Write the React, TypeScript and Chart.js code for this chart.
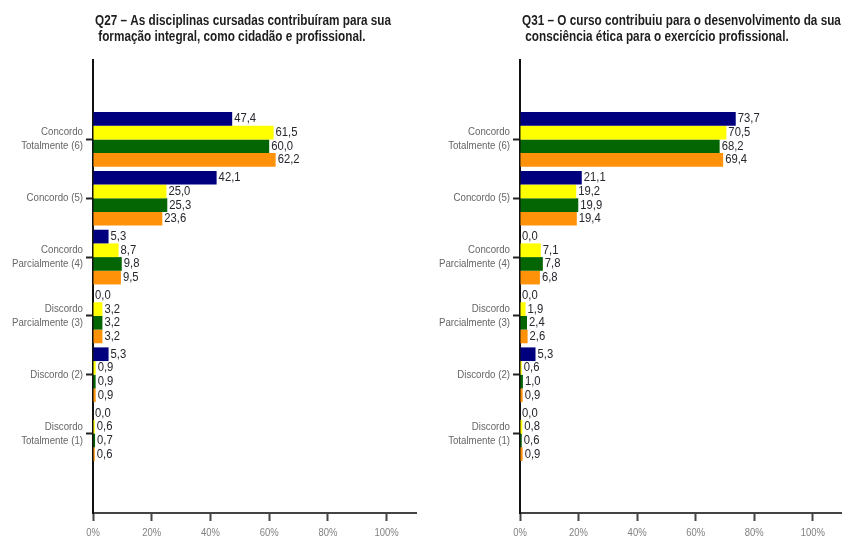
import React, { useEffect, useRef } from 'react';
import { Chart, registerables } from 'chart.js';

Chart.register(...registerables);

// ---------- data ----------
const categories: string[][] = [
  ['Concordo', 'Totalmente (6)'],
  ['Concordo (5)'],
  ['Concordo', 'Parcialmente (4)'],
  ['Discordo', 'Parcialmente (3)'],
  ['Discordo (2)'],
  ['Discordo', 'Totalmente (1)'],
];
const xTickValues = [0, 20, 40, 60, 80, 100];
const seriesNames = ['Série 1', 'Série 2', 'Série 3', 'Série 4'];
const seriesColors = ['#00007e', '#ffff00', '#036603', '#ff9208'];

const q27Title = [
  'Q27 – As disciplinas cursadas contribuíram para sua',
  ' formação integral, como cidadão e profissional.',
];
const q27Series1 = [47.4, 42.1, 5.3, 0.0, 5.3, 0.0];
const q27Series2 = [61.5, 25.0, 8.7, 3.2, 0.9, 0.6];
const q27Series3 = [60.0, 25.3, 9.8, 3.2, 0.9, 0.7];
const q27Series4 = [62.2, 23.6, 9.5, 3.2, 0.9, 0.6];

const q31Title = [
  'Q31 – O curso contribuiu para o desenvolvimento da sua',
  ' consciência ética para o exercício profissional.',
];
const q31Series1 = [73.7, 21.1, 0.0, 0.0, 5.3, 0.0];
const q31Series2 = [70.5, 19.2, 7.1, 1.9, 0.6, 0.8];
const q31Series3 = [68.2, 19.9, 7.8, 2.4, 1.0, 0.6];
const q31Series4 = [69.4, 19.4, 6.8, 2.6, 0.9, 0.9];

// ---------- styling ----------
const FAMILY = "'Liberation Sans', Arial, sans-serif";

// draws text horizontally condensed (the reference uses a narrow face)
function condensedText(
  ctx: CanvasRenderingContext2D,
  text: string,
  x: number,
  y: number,
  factor: number,
  align: CanvasTextAlign,
) {
  ctx.save();
  ctx.translate(x, y);
  ctx.scale(factor, 1);
  ctx.textAlign = align;
  ctx.textBaseline = 'middle';
  ctx.fillText(text, 0, 0);
  ctx.restore();
}

const textPlugin = {
  id: 'narrowText',
  afterDatasetsDraw(chart: any) {
    const ctx: CanvasRenderingContext2D = chart.ctx;
    const area = chart.chartArea;
    // value labels at the end of every bar
    ctx.save();
    ctx.font = `12.5px ${FAMILY}`;
    ctx.fillStyle = '#26262e';
    chart.data.datasets.forEach((ds: any, di: number) => {
      const meta = chart.getDatasetMeta(di);
      meta.data.forEach((el: any, i: number) => {
        const v = ds.data[i].x as number;
        condensedText(ctx, v.toFixed(1).replace('.', ','), el.x + 2, el.y, 0.9, 'left');
      });
    });
    ctx.restore();
  },
  afterDraw(chart: any) {
    const ctx: CanvasRenderingContext2D = chart.ctx;
    const area = chart.chartArea;
    const yScale = chart.scales.y;
    const xScale = chart.scales.x;
    // y tick labels (category names, possibly two lines)
    ctx.save();
    ctx.font = `11px ${FAMILY}`;
    ctx.fillStyle = '#666666';
    yScale.ticks.forEach((t: any, i: number) => {
      const lines: string[] = Array.isArray(t.label) ? t.label : [String(t.label)];
      const py = yScale.getPixelForTick(i);
      const y0 = py - ((lines.length - 1) * 14) / 2;
      lines.forEach((ln, k) => condensedText(ctx, ln, area.left - 10, y0 + k * 14, 0.88, 'right'));
    });
    // x tick labels
    ctx.fillStyle = '#808080';
    xScale.ticks.forEach((t: any, i: number) => {
      condensedText(ctx, String(t.label), xScale.getPixelForTick(i), area.bottom + 20, 0.86, 'center');
    });
    // title
    const title: string[] = chart.options.plugins.narrowText.title;
    ctx.font = `bold 14px ${FAMILY}`;
    ctx.fillStyle = '#1e1e1e';
    title.forEach((ln, k) => condensedText(ctx, ln, area.left + 2, 21 + k * 16, 0.84, 'left'));
    ctx.restore();
  },
};

function makeConfig(title: string[], series: number[][], yWidth: number, padRight: number): any {
  return {
    type: 'bar',
    data: {
      datasets: series.map((vals, i) => ({
        label: seriesNames[i],
        data: vals.map((v, j) => ({ x: v, y: j })),
        backgroundColor: seriesColors[i],
        borderWidth: 0,
        barPercentage: 1,
        categoryPercentage: 0.93,
      })),
    },
    options: {
      indexAxis: 'y',
      responsive: false,
      maintainAspectRatio: false,
      animation: false,
      layout: { padding: { left: 0, right: padRight, top: 60, bottom: 0 } },
      plugins: {
        legend: { display: false },
        tooltip: { enabled: false },
        title: { display: false },
        narrowText: { title },
      },
      scales: {
        x: {
          type: 'linear',
          min: 0,
          max: 110,
          offset: false,
          afterBuildTicks: (s: any) => {
            s.ticks = xTickValues.map((v) => ({ value: v }));
          },
          afterFit: (s: any) => {
            s.height = 26;
          },
          ticks: {
            display: false,
            callback: (v: any) => `${v}%`,
            autoSkip: false,
            maxRotation: 0,
          },
          grid: {
            offset: false,
            drawOnChartArea: false,
            drawTicks: true,
            tickLength: 8,
            tickWidth: 2,
            tickColor: '#444444',
          },
          border: { display: true, color: '#444444', width: 2 },
        },
        y: {
          type: 'linear',
          reverse: true,
          offset: false,
          min: -1.35,
          max: 6.35,
          afterBuildTicks: (s: any) => {
            s.ticks = categories.map((_, i) => ({ value: i }));
          },
          afterFit: (s: any) => {
            s.width = yWidth;
          },
          ticks: {
            display: false,
            callback: (v: any) => categories[v as number],
            autoSkip: false,
          },
          grid: {
            offset: false,
            drawOnChartArea: false,
            drawTicks: true,
            tickLength: 7,
            tickWidth: 2,
            tickColor: '#222222',
          },
          border: { display: true, color: '#111111', width: 2 },
        },
      },
    },
    plugins: [textPlugin],
  };
}

function BarPanel(props: { title: string[]; series: number[][]; yWidth: number; padRight: number; left: number }) {
  const ref = useRef<HTMLCanvasElement | null>(null);
  useEffect(() => {
    if (!ref.current) return;
    const chart = new Chart(ref.current, makeConfig(props.title, props.series, props.yWidth, props.padRight));
    return () => chart.destroy();
  }, []);
  return (
    <div style={{ position: 'absolute', left: props.left, top: 0, width: 421, height: 539 }}>
      <canvas ref={ref} width={421} height={539} style={{ display: 'block' }} />
    </div>
  );
}

export default function App() {
  return (
    <div
      style={{
        position: 'fixed',
        left: 0,
        top: 0,
        width: 842,
        height: 539,
        overflow: 'hidden',
        background: '#ffffff',
      }}
    >
      <BarPanel
        title={q27Title}
        series={[q27Series1, q27Series2, q27Series3, q27Series4]}
        yWidth={93}
        padRight={5}
        left={0}
      />
      <BarPanel
        title={q31Title}
        series={[q31Series1, q31Series2, q31Series3, q31Series4]}
        yWidth={99}
        padRight={0}
        left={421}
      />
    </div>
  );
}
